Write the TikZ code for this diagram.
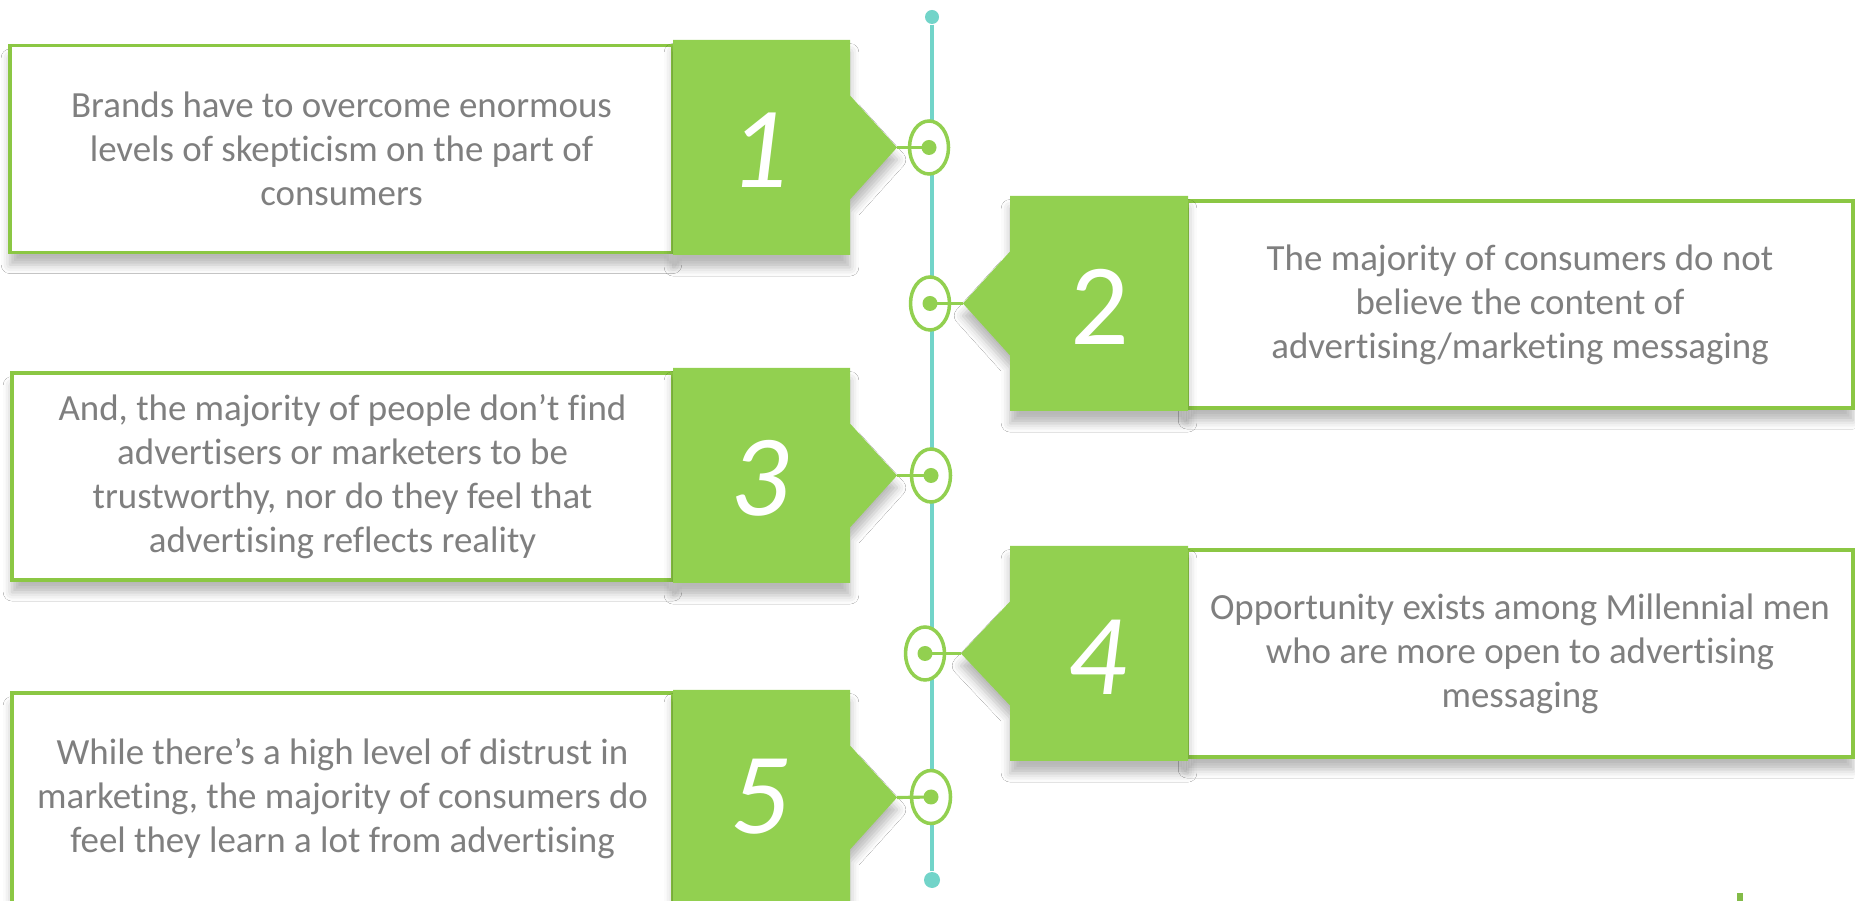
\documentclass[tikz,border=0pt]{standalone}
\usepackage{fontspec}
\setmainfont{Carlito}[Ligatures=NoCommon]
\usetikzlibrary{shapes.geometric,shadows.blur}
\definecolor{Leaf}{HTML}{92D050}
\definecolor{LeafLine}{HTML}{8BC744}
\definecolor{Spine}{HTML}{72D4C9}
\definecolor{Ash}{HTML}{7F7F7F}

\tikzset{
  soft/.style={blur shadow={shadow xshift=0pt,shadow yshift=-3.5pt,shadow blur radius=2.5pt,shadow opacity=28}},
  card/.style={draw=LeafLine,line width=0.9pt,fill=white,text=Ash,align=center,soft,
    font=\fontsize{10.5}{12.5}\selectfont,minimum height=20.7mm,inner sep=0pt},
  tab/.style={fill=Leaf,soft},
  num/.style={text=white,font=\fontsize{33}{33}\selectfont\itshape,inner sep=0pt},
  ring/.style={ellipse,draw=Leaf,line width=1pt,fill=white,minimum width=3.9mm,minimum height=5.3mm,inner sep=0pt},
  dot/.style={circle,fill=Leaf,minimum size=1.5mm,inner sep=0pt},
  knob/.style={circle,fill=Spine,minimum size=1.4mm,inner sep=0pt},
  link/.style={draw=Leaf,line width=0.9pt},
  spine/.style={draw=Spine,line width=0.9pt}
}

\begin{document}
\begin{tikzpicture}[x=0.1mm,y=-0.1mm]
  \fill[white] (0,0) rectangle (1855,901);
  \useasboundingbox (0,0) rectangle (1855,901);

  % cards
  \node[card,minimum width=66.3mm] (card1) at (341.5,149) {Brands have to overcome enormous\\levels of skepticism on the part of\\consumers};
  \node[card,minimum width=66.6mm] (card2) at (1520,304.5) {The majority of consumers do not\\believe the content of\\advertising/marketing messaging};
  \node[card,minimum width=66.1mm] (card3) at (342.5,476.5) {And, the majority of people don’t find\\advertisers or marketers to be\\trustworthy, nor do they feel that\\advertising reflects reality};
  \node[card,minimum width=66.6mm] (card4) at (1520,653.5) {Opportunity exists among Millennial men\\who are more open to advertising\\messaging};
  \node[card,minimum width=66.1mm,minimum height=21.2mm] (card5) at (342.5,799) {While there’s a high level of distrust in\\marketing, the majority of consumers do\\feel they learn a lot from advertising};

  % number tabs
  \coordinate (tip1) at (897,147.5);
  \coordinate (tip2) at (963,303.5);
  \coordinate (tip3) at (897,475.5);
  \coordinate (tip4) at (961,653.5);
  \coordinate (tip5) at (897,797.5);
  \fill[tab] (673,40) -- (850,40) -- (850,95.5) -- (tip1) -- (850,199.5) -- (850,255) -- (673,255) -- cycle;
  \fill[tab] (1188,196) -- (1010,196) -- (1010,251.5) -- (tip2) -- (1010,355.5) -- (1010,411) -- (1188,411) -- cycle;
  \fill[tab] (673,368) -- (850,368) -- (850,423.5) -- (tip3) -- (850,527.5) -- (850,583) -- (673,583) -- cycle;
  \fill[tab] (1188,546) -- (1010,546) -- (1010,601.5) -- (tip4) -- (1010,705.5) -- (1010,761) -- (1188,761) -- cycle;
  \fill[tab] (673,690) -- (850,690) -- (850,745.5) -- (tip5) -- (850,849.5) -- (850,905) -- (673,905) -- cycle;
  \node[num] (n1) at (759,150) {1};
  \node[num,font=\fontsize{33}{33}\selectfont] (n2) at (1100,307) {2};
  \node[num] (n3) at (760,478) {3};
  \node[num] (n4) at (1097,657) {4};
  \node[num] (n5) at (760,797) {5};

  % timeline
  \node[knob] (top) at (932,17) {};
  \node[knob,minimum size=1.6mm] (bottom) at (932,880) {};
  \draw[spine] (top) -- (bottom);

  \node[ring] (ring1) at (929,147.5) {};
  \node[ring] (ring2) at (930,303.5) {};
  \node[ring] (ring3) at (931,475.5) {};
  \node[ring] (ring4) at (925,653.5) {};
  \node[ring] (ring5) at (931,797) {};
  \foreach \i in {1,...,5}{
    \draw[link] (tip\i) -- (ring\i.center);
    \node[dot] (dot\i) at (ring\i.center) {};
  }

  \fill[Leaf!90!black] (1737,893) rectangle (1743,901);
\end{tikzpicture}
\end{document}
